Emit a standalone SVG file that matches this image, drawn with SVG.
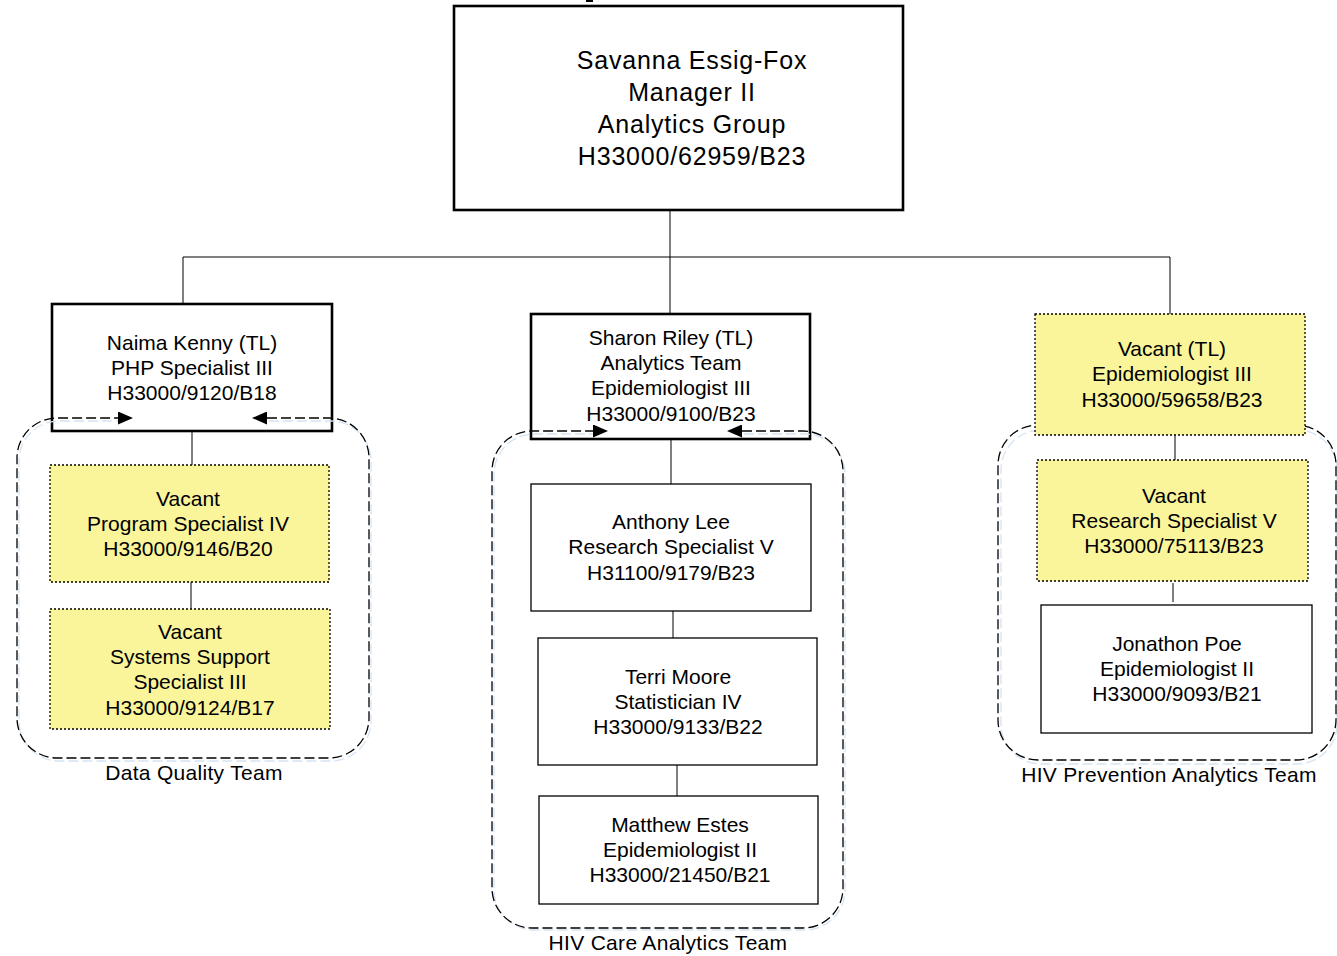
<svg xmlns="http://www.w3.org/2000/svg" width="1337" height="956" viewBox="0 0 1337 956">
<style>
text{font-family:"Liberation Sans",Arial,sans-serif;fill:#000;text-anchor:middle}
.t{font-size:21px}
.lbl{font-size:21px;letter-spacing:0.3px}
.title{font-size:25px;letter-spacing:0.8px}
.box{fill:#fff;stroke:#000;stroke-width:1.3}
.lead{fill:#fff;stroke:#000;stroke-width:2.6}
.vac{fill:#FAF59B;stroke:#000;stroke-width:1.3;stroke-dasharray:2 2}
.team{fill:none;stroke:#000;stroke-width:1.3;stroke-dasharray:10 4}
.shadow{fill:none;stroke:#d4e3f3;stroke-width:1.3;stroke-dasharray:10 4}
.conn{fill:none;stroke:#000;stroke-width:1}
</style>
<defs>
<marker id="arr" markerUnits="userSpaceOnUse" markerWidth="15" markerHeight="13" viewBox="0 0 15 13" refX="0" refY="6.5" orient="auto-start-reverse">
<path d="M0,0 L15,6.5 L0,13 z" fill="#000"/>
</marker>
</defs>
<rect x="0" y="0" width="1337" height="956" fill="#fff"/>
<rect x="586" y="0" width="7" height="2" fill="#000"/>

<g id="connectors">
<path class="conn" d="M670,210 V257 M183,257 H1170 M183,257 V304 M670,257 V314 M1170,257 V314"/>
<path class="conn" d="M192,431 V465 M191,582 V609"/>
<path class="conn" d="M671,439 V484 M673,611 V638 M677,765 V796"/>
<path class="conn" d="M1175,435 V460 M1173,583 V602"/>
</g>

<g id="manager">
<rect class="lead" x="454" y="6" width="449" height="204"/>
<text class="title"><tspan x="692" y="68.5">Savanna Essig-Fox</tspan><tspan x="692" y="100.5">Manager II</tspan><tspan x="692" y="132.5">Analytics Group</tspan><tspan x="692" y="164.5">H33000/62959/B23</tspan></text>
</g>

<g id="team-hiv-prevention">
<path class="shadow" d="M1040,428 H1296 A40,40 0 0 1 1336,468 V722 A40,40 0 0 1 1296,762 H1040 A40,40 0 0 1 1000,722 V468 A40,40 0 0 1 1040,428 Z" transform="translate(1,2)"/>
<path class="team" d="M1038,425 H1296 A40,40 0 0 1 1336,465 V720 A40,40 0 0 1 1296,760 H1038 A40,40 0 0 1 998,720 V465 A40,40 0 0 1 1038,425 Z"/>
<text class="lbl" x="1169" y="781.5">HIV Prevention Analytics Team</text>
</g>

<g id="naima">
<rect class="lead" x="52" y="304" width="280" height="127"/>
<text class="t"><tspan x="192" y="350">Naima Kenny (TL)</tspan><tspan x="192" y="375">PHP Specialist III</tspan><tspan x="192" y="400">H33000/9120/B18</tspan></text>
</g>

<g id="sharon">
<rect class="lead" x="531" y="314" width="279" height="125"/>
<text class="t"><tspan x="671" y="344.5">Sharon Riley (TL)</tspan><tspan x="671" y="370">Analytics Team</tspan><tspan x="671" y="395">Epidemiologist III</tspan><tspan x="671" y="420.5">H33000/9100/B23</tspan></text>
</g>

<g id="vacant-tl">
<rect class="vac" x="1035" y="314" width="270" height="121"/>
<text class="t"><tspan x="1172" y="355.5">Vacant (TL)</tspan><tspan x="1172" y="381">Epidemiologist III</tspan><tspan x="1172" y="406.5">H33000/59658/B23</tspan></text>
</g>

<g id="team-data-quality">
<path class="shadow" d="M269,421 H331 A40,40 0 0 1 371,461 V721 A40,40 0 0 1 331,761 H59 A40,40 0 0 1 19,721 V461 A40,40 0 0 1 59,421 H118"/>
<path class="team" marker-start="url(#arr)" marker-end="url(#arr)" d="M267,418 H329 A40,40 0 0 1 369,458 V718 A40,40 0 0 1 329,758 H57 A40,40 0 0 1 17,718 V458 A40,40 0 0 1 57,418 H118"/>
<text class="lbl" x="194" y="779.5">Data Quality Team</text>
</g>

<g id="team-hiv-care">
<path class="shadow" d="M744,434 H805 A40,40 0 0 1 845,474 V890 A40,40 0 0 1 805,930 H534 A40,40 0 0 1 494,890 V474 A40,40 0 0 1 534,434 H593"/>
<path class="team" marker-start="url(#arr)" marker-end="url(#arr)" d="M742,431 H803 A40,40 0 0 1 843,471 V888 A40,40 0 0 1 803,928 H532 A40,40 0 0 1 492,888 V471 A40,40 0 0 1 532,431 H593"/>
<text class="lbl" x="668" y="949.5">HIV Care Analytics Team</text>
</g>

<g id="vacant-program">
<rect class="vac" x="50" y="465" width="279" height="117"/>
<text class="t"><tspan x="188" y="506">Vacant</tspan><tspan x="188" y="531">Program Specialist IV</tspan><tspan x="188" y="556">H33000/9146/B20</tspan></text>
</g>

<g id="vacant-systems">
<rect class="vac" x="50" y="609" width="280" height="120"/>
<text class="t"><tspan x="190" y="638.5">Vacant</tspan><tspan x="190" y="664">Systems Support</tspan><tspan x="190" y="689">Specialist III</tspan><tspan x="190" y="714.5">H33000/9124/B17</tspan></text>
</g>

<g id="anthony">
<rect class="box" x="531" y="484" width="280" height="127"/>
<text class="t"><tspan x="671" y="528.5">Anthony Lee</tspan><tspan x="671" y="554">Research Specialist V</tspan><tspan x="671" y="580">H31100/9179/B23</tspan></text>
</g>

<g id="terri">
<rect class="box" x="538" y="638" width="279" height="127"/>
<text class="t"><tspan x="678" y="683.5">Terri Moore</tspan><tspan x="678" y="709">Statistician IV</tspan><tspan x="678" y="734">H33000/9133/B22</tspan></text>
</g>

<g id="matthew">
<rect class="box" x="539" y="796" width="279" height="108"/>
<text class="t"><tspan x="680" y="831.5">Matthew Estes</tspan><tspan x="680" y="857">Epidemiologist II</tspan><tspan x="680" y="882">H33000/21450/B21</tspan></text>
</g>

<g id="vacant-research">
<rect class="vac" x="1037" y="460" width="271" height="121"/>
<text class="t"><tspan x="1174" y="502.5">Vacant</tspan><tspan x="1174" y="528">Research Specialist V</tspan><tspan x="1174" y="553">H33000/75113/B23</tspan></text>
</g>

<g id="jonathon">
<rect class="box" x="1041" y="605" width="271" height="128"/>
<text class="t"><tspan x="1177" y="650.5">Jonathon Poe</tspan><tspan x="1177" y="676">Epidemiologist II</tspan><tspan x="1177" y="701">H33000/9093/B21</tspan></text>
</g>
</svg>
